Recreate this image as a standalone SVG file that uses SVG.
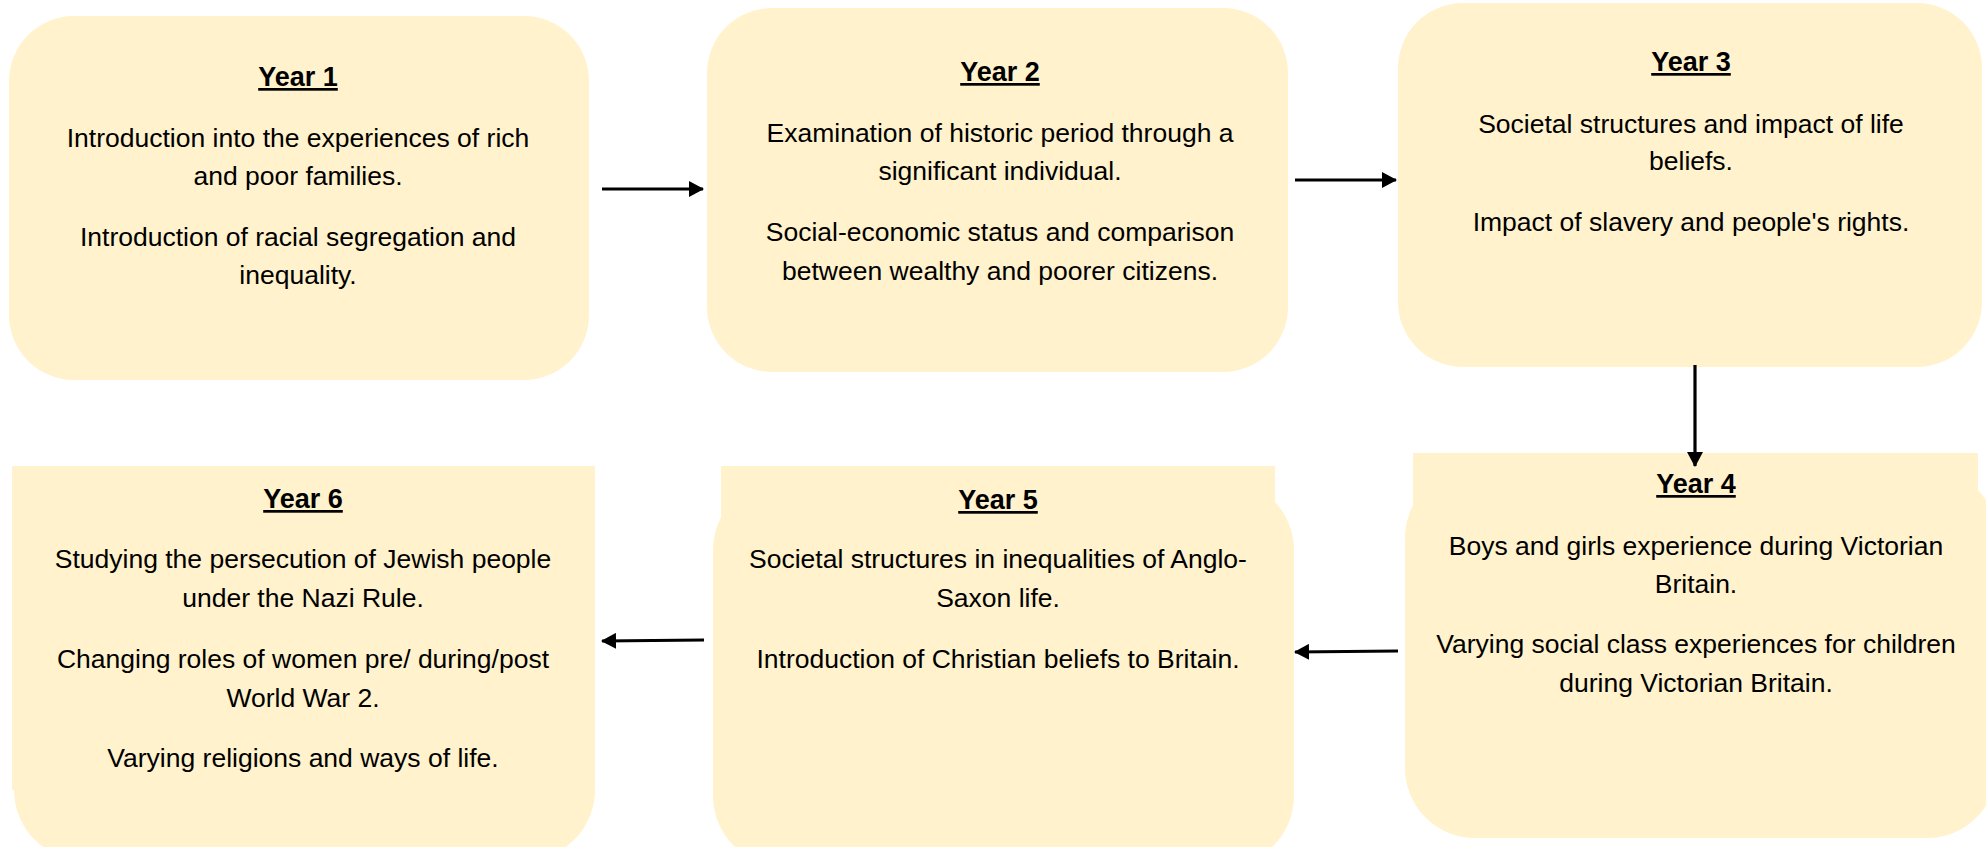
<svg xmlns="http://www.w3.org/2000/svg" width="1986" height="847" viewBox="0 0 1986 847">
<style>
.box{fill:#FFF2CC;}
.t{font-family:"Liberation Sans",Arial,sans-serif;font-size:26.5px;fill:#000;text-anchor:middle;}
.h{font-weight:bold;text-decoration:underline;font-size:27px;}
.c{stroke:#000;stroke-width:3.2;fill:none;}
</style>
<defs>
<marker id="ah" markerUnits="userSpaceOnUse" markerWidth="15" markerHeight="16" refX="14" refY="8" orient="auto" viewBox="0 0 15 16">
<path d="M0,0 L15,8 L0,16 z" fill="#000"/>
</marker>
</defs>
<rect width="1986" height="847" fill="#fff"/>

<g id="year1">
<rect class="box" x="9" y="16" width="580" height="364" rx="65"/>
<text class="t h" x="298" y="86">Year 1</text>
<text class="t" x="298" y="147">Introduction into the experiences of rich</text>
<text class="t" x="298" y="185">and poor families.</text>
<text class="t" x="298" y="246">Introduction of racial segregation and</text>
<text class="t" x="298" y="284">inequality.</text>
</g>

<g id="year2">
<rect class="box" x="707" y="8" width="581" height="364" rx="65"/>
<text class="t h" x="1000" y="81">Year 2</text>
<text class="t" x="1000" y="142">Examination of historic period through a</text>
<text class="t" x="1000" y="180">significant individual.</text>
<text class="t" x="1000" y="241">Social-economic status and comparison</text>
<text class="t" x="1000" y="280">between wealthy and poorer citizens.</text>
</g>

<g id="year3">
<rect class="box" x="1398" y="3" width="584" height="364" rx="65"/>
<text class="t h" x="1691" y="71">Year 3</text>
<text class="t" x="1691" y="133">Societal structures and impact of life</text>
<text class="t" x="1691" y="170">beliefs.</text>
<text class="t" x="1691" y="231">Impact of slavery and people's rights.</text>
</g>

<g id="year4">
<rect class="box" x="1405" y="468" width="592" height="370" rx="70"/>
<rect class="box" x="1413" y="453" width="565" height="200"/>
<text class="t h" x="1696" y="493">Year 4</text>
<text class="t" x="1696" y="555">Boys and girls experience during Victorian</text>
<text class="t" x="1696" y="593">Britain.</text>
<text class="t" x="1696" y="653">Varying social class experiences for children</text>
<text class="t" x="1696" y="692">during Victorian Britain.</text>
</g>

<g id="year5">
<rect class="box" x="713" y="480" width="581" height="386" rx="70"/>
<rect class="box" x="721" y="466" width="554" height="200"/>
<text class="t h" x="998" y="509">Year 5</text>
<text class="t" x="998" y="568">Societal structures in inequalities of Anglo-</text>
<text class="t" x="998" y="607">Saxon life.</text>
<text class="t" x="998" y="668">Introduction of Christian beliefs to Britain.</text>
</g>

<g id="year6">
<rect class="box" x="14" y="480" width="581" height="380" rx="70"/>
<rect class="box" x="12" y="466" width="583" height="324"/>
<text class="t h" x="303" y="508">Year 6</text>
<text class="t" x="303" y="568">Studying the persecution of Jewish people</text>
<text class="t" x="303" y="607">under the Nazi Rule.</text>
<text class="t" x="303" y="668">Changing roles of women pre/ during/post</text>
<text class="t" x="303" y="707">World War 2.</text>
<text class="t" x="303" y="767">Varying religions and ways of life.</text>
</g>

<g id="connectors">
<line class="c" x1="602" y1="189" x2="703" y2="189" marker-end="url(#ah)"/>
<line class="c" x1="1295" y1="180" x2="1396" y2="180" marker-end="url(#ah)"/>
<line class="c" x1="1695" y1="365" x2="1695" y2="466" marker-end="url(#ah)"/>
<line class="c" x1="1398" y1="651" x2="1295" y2="652" marker-end="url(#ah)"/>
<line class="c" x1="704" y1="640" x2="602" y2="641" marker-end="url(#ah)"/>
</g>
</svg>
